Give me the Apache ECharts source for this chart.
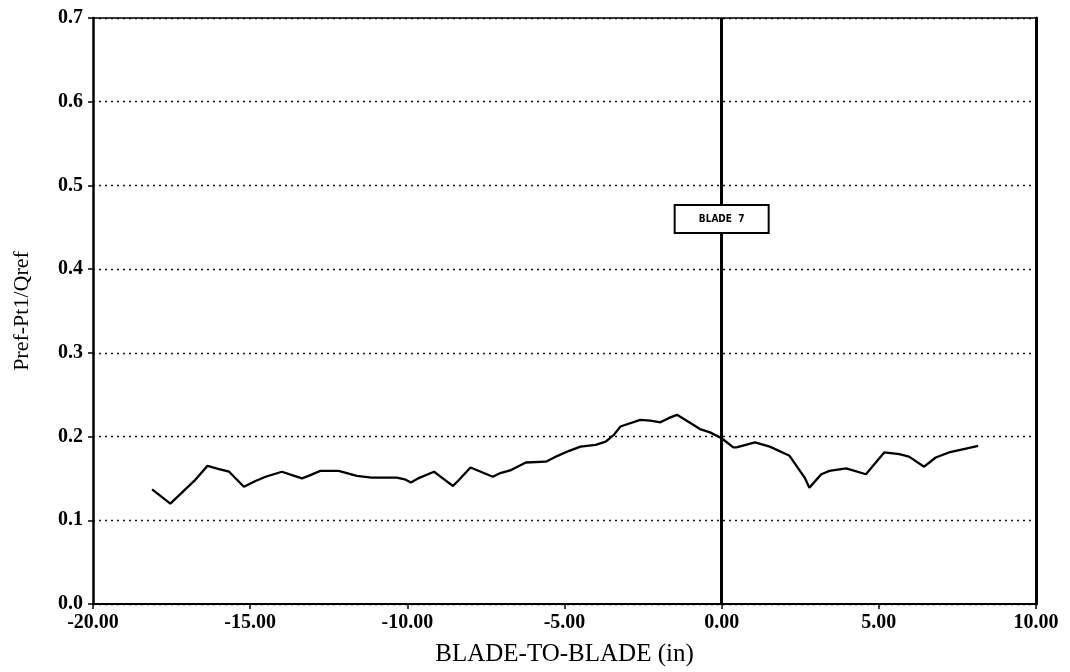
<!DOCTYPE html>
<html>
<head>
<meta charset="utf-8">
<script src="https://cdn.jsdelivr.net/npm/echarts@6/dist/echarts.min.js"></script>
<style>
  html, body { margin: 0; padding: 0; background: #fff; }
  #chart { width: 1070px; height: 672px; }
</style>
</head>
<body>
<div id="chart"></div>
<script>
// Pressure coefficient across one blade passage
const bladePos = [
  -18.12, -17.54, -16.78, -16.36, -15.99, -15.67, -15.20, -14.83, -14.51, -13.99,
  -13.67, -13.35, -13.14, -12.77, -12.19, -11.98, -11.61, -11.14, -10.34, -10.08,
  -9.89, -9.66, -9.15, -8.87, -8.55, -8.39, -7.99, -7.28, -7.07, -6.70,
  -6.23, -5.59, -5.22, -4.85, -4.49, -4.01, -3.69, -3.43, -3.22, -2.59,
  -2.27, -1.95, -1.69, -1.42, -1.11, -0.69, -0.37, 0.00, 0.37, 0.47,
  1.06, 1.53, 2.16, 2.64, 2.79, 3.17, 3.43, 3.96, 4.59, 5.17,
  5.65, 5.96, 6.44, 6.81, 7.23, 7.81, 8.16
];
const pressureCoef = [
  0.137, 0.120, 0.147, 0.165, 0.161, 0.158, 0.140, 0.147, 0.152, 0.158,
  0.154, 0.150, 0.153, 0.159, 0.159, 0.157, 0.153, 0.151, 0.151, 0.149,
  0.145, 0.150, 0.158, 0.150, 0.141, 0.147, 0.163, 0.152, 0.156, 0.160,
  0.169, 0.170, 0.177, 0.183, 0.188, 0.190, 0.194, 0.202, 0.212, 0.220,
  0.219, 0.217, 0.222, 0.226, 0.219, 0.209, 0.205, 0.198, 0.187, 0.187,
  0.193, 0.188, 0.177, 0.151, 0.139, 0.155, 0.159, 0.162, 0.155, 0.181,
  0.179, 0.176, 0.164, 0.175, 0.181, 0.186, 0.189
];

// Blade marker
const bladeName = 'BLADE  7';
const bladeX = 0;
const bladeTagY = 0.46;

const xTicks = [-20, -15, -10, -5, 0, 5, 10];
const yTicks = [0, 0.1, 0.2, 0.3, 0.4, 0.5, 0.6, 0.7];

const serif = '"Liberation Serif", "DejaVu Serif", serif';
const ink = '#000';

const chart = echarts.init(document.getElementById('chart'), null, { renderer: 'canvas' });

const points = bladePos.map((x, i) => [x, pressureCoef[i]]);

chart.setOption({
  backgroundColor: '#fff',
  animation: false,
  grid: { left: 93, right: 34, top: 18, bottom: 67, containLabel: false },
  xAxis: [
    {
      type: 'value',
      min: xTicks[0], max: xTicks[xTicks.length - 1], interval: 5,
      name: 'BLADE-TO-BLADE (in)',
      nameLocation: 'middle', nameGap: 38,
      nameTextStyle: { fontFamily: serif, fontSize: 25, color: ink },
      axisLine: { show: true, onZero: false, lineStyle: { color: ink, width: 2 } },
      axisTick: { show: true, inside: false, length: 5, lineStyle: { color: ink, width: 1.5 } },
      axisLabel: {
        fontFamily: serif, fontSize: 20, fontWeight: 'bold', color: ink, margin: 9,
        formatter: v => v.toFixed(2)
      },
      splitLine: { show: false }
    },
    {
      // top frame edge
      type: 'value', position: 'top',
      min: xTicks[0], max: xTicks[xTicks.length - 1], interval: 5,
      axisLine: { show: true, onZero: false, lineStyle: { color: ink, width: 1.5 } },
      axisTick: { show: false }, axisLabel: { show: false }, splitLine: { show: false }
    }
  ],
  yAxis: [
    {
      type: 'value',
      min: yTicks[0], max: yTicks[yTicks.length - 1], interval: 0.1,
      name: 'Pref-Pt1/Qref',
      nameLocation: 'middle', nameGap: 60, nameRotate: 90,
      nameTextStyle: { fontFamily: serif, fontSize: 22, color: ink },
      axisLine: { show: true, onZero: false, lineStyle: { color: ink, width: 2.5 } },
      axisTick: { show: true, inside: false, length: 5, lineStyle: { color: ink, width: 1.5 } },
      axisLabel: {
        fontFamily: serif, fontSize: 20, fontWeight: 'bold', color: ink, margin: 10,
        formatter: v => v.toFixed(1)
      },
      splitLine: {
        show: true,
        lineStyle: { type: [2, 4], color: '#111', width: 1.3 }
      }
    },
    {
      // right frame edge
      type: 'value', position: 'right',
      min: yTicks[0], max: yTicks[yTicks.length - 1], interval: 0.1,
      axisLine: { show: true, onZero: false, lineStyle: { color: ink, width: 3 } },
      axisTick: { show: false }, axisLabel: { show: false }, splitLine: { show: false }
    }
  ],
  series: [
    {
      type: 'line',
      data: points,
      showSymbol: false,
      symbol: 'none',
      smooth: false,
      lineStyle: { color: ink, width: 2.3 },
      z: 3,
      markLine: {
        silent: true,
        symbol: ['none', 'none'],
        label: { show: false },
        lineStyle: { color: ink, width: 3, type: 'solid' },
        data: [{ xAxis: bladeX }],
        z: 4
      },
      markPoint: {
        silent: true,
        symbol: 'circle',
        symbolSize: 0,
        label: {
          show: true, position: 'inside',
          formatter: bladeName,
          fontFamily: '"DejaVu Sans Condensed", "DejaVu Sans", sans-serif',
          fontSize: 10, fontWeight: 'bold', color: ink,
          backgroundColor: '#fff',
          borderColor: ink, borderWidth: 2,
          width: 92, height: 26, align: 'center', verticalAlign: 'middle',
          lineHeight: 26
        },
        data: [{ coord: [bladeX, bladeTagY] }],
        z: 5
      }
    }
  ]
});
</script>
</body>
</html>
